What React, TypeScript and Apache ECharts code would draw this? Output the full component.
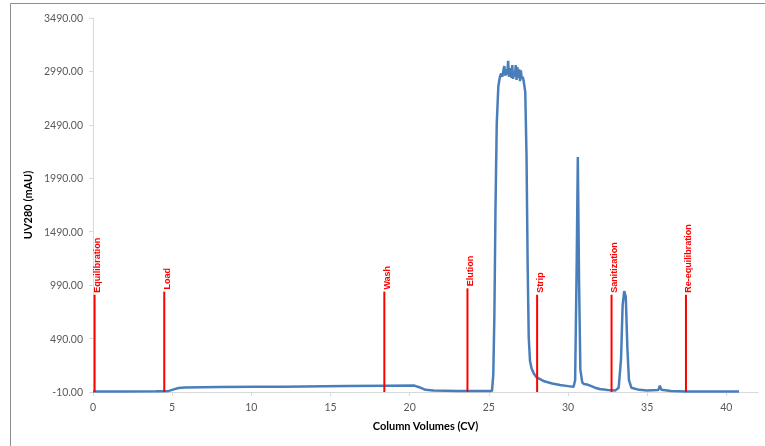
import React, { useEffect, useRef } from 'react';
import * as echarts from 'echarts';

const cvPoints = [
  0, 2, 4, 4.5, 4.8, 5.1, 5.4, 5.8, 8, 12, 16, 18.5, 20.3, 20.6, 21.0, 21.5, 23, 25,
  25.2, 25.28, 25.35, 25.42, 25.5, 25.6, 25.7, 25.78, 25.85, 25.92, 25.98, 26.04, 26.1,
  26.16, 26.22, 26.27, 26.32, 26.38, 26.43, 26.48, 26.53, 26.58, 26.64, 26.7, 26.75,
  26.8, 26.86, 26.92, 26.97, 27.02, 27.08, 27.14, 27.2, 27.3, 27.38, 27.45, 27.52, 27.6,
  27.7, 27.85, 28.0, 28.5, 29.0, 29.5, 30.0, 30.35, 30.45, 30.55, 30.62, 30.7, 30.78,
  30.9, 31.0, 31.2, 31.4, 31.7, 32.0, 32.5, 33.0, 33.2, 33.35, 33.45, 33.55, 33.65,
  33.75, 33.85, 34.0, 34.5, 35.0, 35.7, 35.8, 35.9, 36.5, 37.5, 40.8,
];
const uvPoints = [
  -5, -6, -3, -2, 0, 15, 28, 33, 36, 40, 45, 48, 50, 35, 10, 3, 0, 0,
  0, 150, 700, 1700, 2500, 2850, 2940, 2970, 2940, 3000, 3040, 2950, 3010,
  2960, 3090, 2940, 3020, 2980, 2930, 3050, 2920, 2990, 2940, 3050, 2910,
  3030, 2930, 3010, 2900, 3000, 2920, 2940, 2900, 2800, 2200, 1200, 500, 280,
  210, 160, 130, 90, 70, 55, 45, 38, 100, 1200, 2190, 1000, 200,
  80, 65, 60, 50, 30, 18, 8, 5, 30, 300, 800, 935, 880,
  400, 100, 30, 10, 5, 8, 50, 10, 0, -5, -5,
];

const phaseNames = ['Equilibration', 'Load', 'Wash', 'Elution', 'Strip', 'Sanitization', 'Re-equilibration'];
const phaseCV = [0.1, 4.5, 18.4, 23.65, 28.05, 32.75, 37.45];
const phaseMarkerTop = [900, 930, 930, 960, 900, 900, 900];

const yMin = -10;
const yMax = 3490;
const yStep = 500;
const xMin = 0;
const xMax = 42;
const xStep = 5;

export default function App() {
  const ref = useRef<HTMLDivElement>(null);
  useEffect(() => {
    const chart = echarts.init(ref.current as HTMLDivElement, null, { renderer: 'svg' });
    const lineData = cvPoints.map((x, i) => [x, uvPoints[i]]);
    const markerData = phaseCV.map((x, i) => [x, phaseMarkerTop[i]]);
    chart.setOption({
      animation: false,
      textStyle: { fontFamily: 'Lato' },
      grid: { left: 93, top: 18, width: 665, height: 374 },
      graphic: [
        {
          type: 'rect',
          silent: true,
          z: -1,
          shape: { x: 10.5, y: 3.5, width: 900, height: 900 },
          style: { fill: 'none', stroke: '#8c8c8c', lineWidth: 1 },
        },
      ],
      xAxis: {
        type: 'value',
        min: xMin,
        max: xMax,
        interval: xStep,
        axisLine: { show: true, onZero: false, lineStyle: { color: '#d9d9d9', width: 1 } },
        axisTick: { show: true, length: 4, lineStyle: { color: '#d9d9d9' } },
        axisLabel: { color: '#595959', fontSize: 10.5, margin: 9, showMaxLabel: false },
        splitLine: { show: false },
        name: 'Column Volumes (CV)',
        nameLocation: 'middle',
        nameGap: 28,
        nameTextStyle: { fontWeight: 'bold', fontSize: 11, color: '#000' },
      },
      yAxis: {
        type: 'value',
        min: yMin,
        max: yMax,
        interval: yStep,
        axisLine: { show: true, lineStyle: { color: '#d9d9d9', width: 1 } },
        axisTick: { show: true, length: 4, lineStyle: { color: '#d9d9d9' } },
        axisLabel: {
          color: '#595959',
          fontSize: 10.5,
          margin: 10,
          formatter: (v: number) => v.toFixed(2),
        },
        splitLine: { show: false },
        name: 'UV280 (mAU)',
        nameLocation: 'middle',
        nameGap: 47,
        nameTextStyle: { fontWeight: 'bold', fontSize: 11, color: '#000' },
      },
      series: [
        {
          type: 'line',
          data: lineData,
          symbol: 'none',
          showSymbol: false,
          lineStyle: { color: '#4a7ebb', width: 2.5 },
          z: 2,
        },
        {
          type: 'custom',
          data: markerData,
          z: 3,
          renderItem: (params: any, api: any) => {
            const x = api.value(0);
            const top = api.value(1);
            const p0 = api.coord([x, yMin]);
            const p1 = api.coord([x, top]);
            return {
              type: 'group',
              children: [
                {
                  type: 'line',
                  shape: { x1: p0[0], y1: p0[1], x2: p1[0], y2: p1[1] },
                  style: { stroke: '#ff0000', lineWidth: 2 },
                },
                {
                  type: 'text',
                  x: p1[0] + 2.5,
                  y: p1[1] - 2,
                  rotation: Math.PI / 2,
                  style: {
                    text: phaseNames[params.dataIndex],
                    fill: '#ff0000',
                    fontSize: 9,
                    fontWeight: 'bold',
                    fontFamily: 'Liberation Sans',
                    align: 'left',
                    verticalAlign: 'middle',
                  },
                },
              ],
            };
          },
        },
      ],
    });
    return () => chart.dispose();
  }, []);
  return <div ref={ref} style={{ position: 'fixed', left: 0, top: 0, width: 765, height: 446 }} />;
}
